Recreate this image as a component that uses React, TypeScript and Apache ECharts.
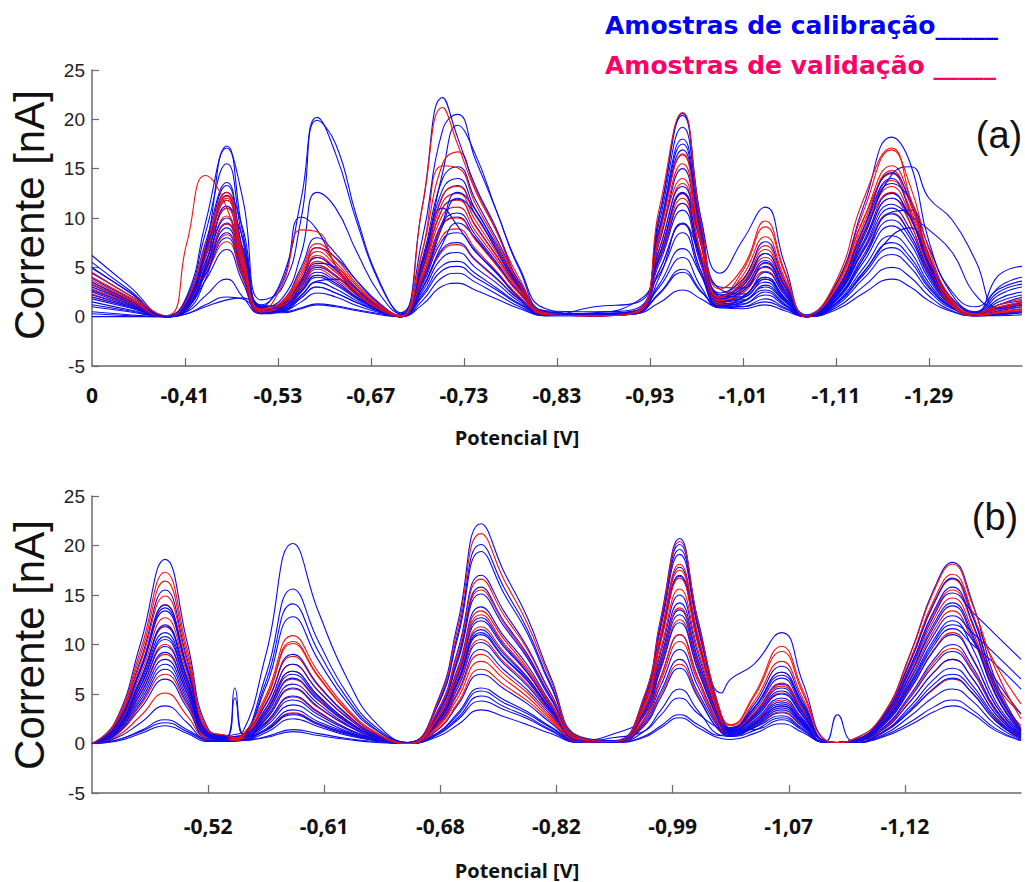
import React, { useEffect, useRef } from "react";
import * as echarts from "echarts";

// ---------- Panel (a): sampling positions (axis units, one unit per tick) ----------
const KNOTS_A = [0, 0.4, 0.8, 1.02, 1.22, 1.45, 1.62, 1.82, 2.05, 2.25, 2.42, 2.62, 2.85, 3.1, 3.32, 3.55, 3.77, 3.93, 4.12, 4.35, 4.6, 4.88, 5.4, 5.85, 6.1, 6.35, 6.55, 6.75, 7.0, 7.24, 7.45, 7.68, 8.0, 8.3, 8.6, 8.8, 9.0, 9.25, 9.5, 9.75, 10];
const TICKS_A = ["0", "-0,41", "-0,53", "-0,67", "-0,73", "-0,83", "-0,93", "-1,01", "-1,11", "-1,29"];

// calibration samples (blue), panel (a)
const CAL_A_01 = [6.2, 3.1, 0.1, 2.1, 9.5, 17.3, 8.6, 1.0, 4.0, 12.0, 20.2, 16.5, 9.5, 3.2, 0.2, 11.1, 22.2, 18.2, 13.3, 8.9, 3.3, 0.2, 0.3, 0.6, 10.3, 20.6, 9.9, 4.4, 7.8, 11.1, 5.3, 0.2, 3.3, 11.3, 18.2, 15.5, 7.6, 2.2, 0.5, 4.2, 5.1];
const CAL_A_02 = [4.9, 2.5, 0.0, 1.0, 6.8, 17.1, 12.0, 1.7, 3.0, 10.0, 19.9, 17.5, 10.0, 3.4, 0.4, 7.8, 18.9, 20.5, 16.0, 10.7, 4.7, 0.6, 0.5, 0.8, 10.2, 20.4, 9.8, 2.4, 3.8, 7.6, 3.6, 0.1, 2.3, 8.4, 14.4, 15.2, 12.0, 9.8, 5.7, 0.8, 1.2];
const CAL_A_03 = [4.4, 2.2, 0.0, 1.9, 8.5, 15.5, 7.8, 0.9, 1.9, 6.4, 12.6, 11.0, 6.5, 2.2, 0.3, 5.4, 14.6, 19.4, 16.5, 10.7, 4.9, 0.8, 0.2, 0.5, 9.6, 19.2, 9.2, 2.2, 3.2, 6.4, 3.1, 0.1, 2.6, 9.1, 14.6, 11.7, 6.1, 1.8, 0.4, 3.0, 4.0];
const CAL_A_04 = [3.9, 1.9, 0.1, 1.6, 7.5, 13.6, 6.8, 1.2, 3.6, 10.1, 8.8, 5.2, 2.3, 0.7, 0.1, 5.8, 14.0, 15.2, 11.9, 7.9, 3.5, 0.5, 0.3, 0.4, 8.5, 16.9, 8.1, 2.0, 2.9, 5.7, 2.7, 0.1, 2.4, 8.1, 13.5, 11.8, 7.0, 2.5, 1.0, 2.8, 3.6];
const CAL_A_05 = [3.5, 1.7, 0.0, 1.4, 6.9, 13.3, 6.9, 0.6, 1.6, 5.0, 8.0, 6.4, 3.6, 1.2, 0.1, 5.3, 12.9, 14.0, 10.9, 7.3, 3.2, 0.4, 0.1, 0.3, 7.5, 15.0, 7.2, 1.8, 2.6, 5.1, 2.4, 0.1, 2.2, 7.7, 12.5, 10.0, 5.2, 1.4, 0.2, 1.2, 2.0];
const CAL_A_06 = [3.0, 1.5, 0.0, 0.8, 4.6, 11.2, 8.0, 1.1, 1.1, 3.6, 7.0, 6.0, 3.6, 1.3, 0.1, 3.6, 9.6, 12.6, 10.9, 7.0, 3.2, 0.5, 0.2, 0.4, 6.8, 13.2, 7.8, 2.8, 2.3, 4.5, 2.2, 0.1, 2.1, 7.0, 11.4, 10.2, 8.8, 6.5, 2.2, 0.9, 1.5];
const CAL_A_07 = [2.7, 1.3, 0.0, 1.3, 6.0, 11.0, 5.6, 0.5, 1.3, 3.8, 6.0, 4.8, 2.7, 0.9, 0.1, 4.6, 11.0, 11.9, 9.3, 6.2, 2.8, 0.3, 0.2, 0.6, 6.3, 12.5, 6.0, 1.6, 2.1, 4.0, 1.9, 0.1, 2.0, 6.8, 11.0, 8.8, 4.6, 1.3, 0.2, 0.8, 1.2];
const CAL_A_08 = [2.5, 1.2, 0.1, 1.2, 5.5, 10.0, 5.0, 0.8, 1.0, 3.1, 5.0, 4.1, 2.3, 0.8, 0.1, 5.5, 11.0, 9.2, 6.7, 4.5, 1.8, 0.1, 1.0, 1.4, 5.8, 11.5, 5.6, 1.5, 1.9, 3.5, 1.7, 0.1, 1.8, 6.3, 10.4, 8.3, 4.4, 1.3, 0.2, 0.6, 1.0];
const CAL_A_09 = [2.2, 1.1, 0.0, 0.9, 4.8, 9.0, 4.6, 0.4, 0.9, 2.8, 4.5, 3.6, 2.0, 0.7, 0.0, 3.8, 9.3, 10.1, 7.9, 5.3, 2.3, 0.3, 0.1, 0.3, 4.7, 9.4, 4.6, 1.3, 1.6, 3.0, 1.5, 0.0, 1.7, 6.0, 9.8, 7.9, 4.1, 1.2, 0.2, 0.5, 0.8];
const CAL_A_10 = [1.8, 0.9, 0.0, 1.0, 4.6, 8.5, 4.3, 0.5, 0.8, 2.5, 4.0, 3.2, 1.8, 0.6, 0.0, 3.2, 7.8, 8.5, 6.6, 4.4, 1.9, 0.2, 0.4, 1.5, 4.3, 8.5, 4.2, 1.1, 1.5, 2.7, 1.3, 0.0, 1.6, 5.6, 9.2, 7.4, 3.8, 1.1, 0.1, 0.3, 0.6];
const CAL_A_11 = [1.5, 0.7, 0.0, 0.9, 4.3, 8.0, 4.1, 0.4, 0.7, 2.2, 3.5, 2.8, 1.6, 0.5, 0.0, 2.2, 5.2, 5.6, 4.4, 2.9, 1.3, 0.2, 0.2, 0.5, 3.3, 6.9, 4.2, 1.0, 1.2, 2.2, 1.1, 0.0, 1.3, 4.6, 7.5, 6.0, 3.1, 0.9, 0.1, 0.3, 0.5];
const CAL_A_12 = [1.0, 0.5, 0.0, 0.5, 2.1, 3.8, 2.0, 0.3, 0.6, 1.9, 3.0, 2.4, 1.4, 0.5, 0.0, 2.0, 4.7, 5.1, 4.0, 2.7, 1.2, 0.2, 0.3, 0.6, 3.0, 6.0, 3.0, 0.9, 1.0, 1.8, 0.9, 0.0, 1.1, 3.9, 6.3, 5.0, 2.6, 0.8, 0.3, 1.2, 1.6];
const CAL_A_13 = [0.5, 0.2, 0.0, 0.3, 1.2, 2.0, 1.8, 0.6, 0.5, 0.9, 1.3, 1.1, 0.7, 0.3, 0.0, 1.6, 4.0, 4.4, 3.5, 2.3, 1.0, 0.1, 0.1, 0.4, 2.3, 4.5, 2.5, 1.2, 1.0, 1.5, 0.8, 0.0, 0.9, 3.1, 5.0, 4.0, 2.1, 0.6, 0.1, 0.2, 0.4];
const CAL_A_14 = [0.0, 0.0, 0.0, 0.3, 1.0, 1.7, 1.9, 0.7, 0.4, 0.8, 1.2, 1.0, 0.6, 0.2, 0.0, 1.2, 3.1, 3.4, 2.7, 1.8, 0.8, 0.1, 0.1, 0.3, 1.4, 2.7, 1.8, 0.9, 0.8, 1.2, 0.6, 0.0, 0.7, 2.4, 3.8, 3.0, 1.6, 0.5, 0.1, 0.1, 0.2];
const CAL_A_15 = [5.0, 2.5, 0.1, 0.8, 5.2, 12.6, 9.0, 1.0, 1.3, 3.5, 5.4, 5.0, 2.8, 0.9, 0.1, 3.9, 9.6, 10.5, 8.3, 5.5, 2.4, 0.3, 0.1, 0.3, 4.0, 9.5, 6.0, 1.8, 3.4, 6.4, 3.1, 0.1, 2.6, 9.0, 14.0, 10.5, 5.0, 1.2, 0.3, 2.2, 3.0];
const CAL_A_16 = [0.3, 0.1, 0.0, 1.0, 5.0, 9.5, 4.8, 0.5, 0.6, 1.9, 3.0, 2.4, 1.4, 0.5, 0.0, 2.9, 6.9, 7.5, 5.8, 3.9, 1.7, 0.2, 0.2, 0.5, 2.4, 4.8, 2.6, 1.0, 2.0, 4.0, 1.9, 0.0, 1.3, 4.3, 7.0, 5.6, 2.9, 0.9, 0.2, 1.8, 2.5];
const CAL_A_17 = [3.2, 1.6, 0.0, 1.2, 6.3, 11.8, 6.0, 0.7, 1.1, 3.3, 5.2, 4.2, 2.4, 0.8, 0.1, 4.9, 12.2, 13.3, 10.4, 6.9, 3.1, 0.4, 0.2, 0.5, 8.8, 17.5, 8.5, 3.0, 2.9, 5.5, 2.6, 0.1, 2.1, 7.4, 12.0, 10.0, 5.3, 1.5, 0.2, 0.9, 1.4];
const CAL_A_18 = [2.0, 1.0, 0.0, 0.6, 3.8, 9.4, 7.0, 0.9, 0.7, 2.1, 3.6, 3.8, 2.2, 0.7, 0.0, 2.8, 7.4, 9.5, 8.0, 5.3, 2.4, 0.3, 0.3, 0.5, 6.2, 12.6, 7.4, 2.0, 1.7, 3.2, 1.6, 0.0, 1.7, 6.0, 10.6, 10.8, 5.5, 1.5, 0.2, 1.5, 2.2];
const CAL_A_19 = [1.2, 0.6, 0.0, 0.8, 3.7, 6.8, 3.5, 0.3, 0.5, 1.5, 2.4, 2.0, 1.1, 0.4, 0.0, 2.5, 6.0, 6.5, 5.0, 3.4, 1.5, 0.2, 0.1, 0.4, 5.4, 10.8, 5.2, 1.2, 1.3, 2.5, 1.2, 0.0, 1.4, 5.0, 8.2, 6.6, 3.4, 1.0, 0.1, 0.2, 0.4];
const CAL_A_20 = [5.5, 2.7, 0.1, 1.4, 6.6, 12.3, 6.4, 0.8, 0.9, 2.6, 4.2, 3.4, 1.9, 0.6, 0.0, 3.4, 9.2, 12.0, 10.4, 6.7, 3.0, 0.5, 0.2, 0.4, 9.0, 18.0, 8.8, 2.2, 2.0, 3.8, 1.8, 0.1, 1.3, 4.5, 8.2, 9.0, 5.4, 1.8, 0.5, 2.5, 3.3];

// validation samples (red), panel (a)
const VAL_A_01 = [4.5, 2.2, 0.1, 7.5, 14.3, 11.0, 5.0, 0.6, 3.3, 8.8, 8.6, 5.2, 2.4, 0.7, 0.0, 11.0, 21.2, 17.5, 12.8, 8.6, 3.2, 0.2, 0.1, 0.5, 11.0, 20.7, 9.5, 2.8, 5.0, 9.7, 4.6, 0.1, 3.6, 12.0, 17.1, 12.0, 6.0, 1.4, 0.3, 1.0, 1.5];
const VAL_A_02 = [4.0, 2.0, 0.0, 1.7, 7.2, 12.6, 6.5, 0.7, 1.6, 4.7, 7.4, 5.9, 3.3, 1.1, 0.1, 6.5, 15.5, 16.7, 13.0, 8.7, 3.8, 0.4, 0.1, 0.4, 8.4, 16.4, 7.8, 2.0, 4.7, 9.1, 4.4, 0.1, 3.2, 10.8, 16.9, 13.2, 6.8, 1.7, 0.2, 0.5, 0.8];
const VAL_A_03 = [3.7, 1.8, 0.0, 1.8, 7.0, 12.2, 6.0, 0.8, 1.5, 4.4, 7.0, 5.5, 3.1, 1.0, 0.1, 6.6, 15.3, 15.1, 11.5, 7.6, 3.3, 0.3, 0.2, 0.5, 7.9, 15.5, 7.3, 1.9, 4.2, 8.1, 3.9, 0.1, 3.1, 10.0, 15.3, 12.0, 6.3, 1.6, 0.4, 1.2, 1.8];
const VAL_A_04 = [3.3, 1.6, 0.0, 1.5, 6.4, 11.8, 6.2, 0.6, 1.4, 4.1, 6.6, 5.2, 2.9, 1.0, 0.0, 5.1, 12.3, 13.2, 10.3, 6.9, 3.0, 0.3, 0.1, 0.6, 8.0, 14.0, 6.2, 1.7, 3.7, 7.2, 3.4, 0.1, 2.8, 9.5, 14.8, 11.4, 5.8, 1.5, 0.2, 0.4, 0.6];
const VAL_A_05 = [3.0, 1.5, 0.0, 1.4, 6.1, 11.0, 5.5, 0.5, 1.3, 3.8, 6.2, 4.9, 2.8, 0.9, 0.0, 4.5, 11.0, 11.8, 9.2, 6.1, 2.7, 0.3, 0.1, 0.4, 6.9, 13.5, 6.4, 1.6, 3.1, 6.0, 2.9, 0.1, 2.6, 8.7, 13.8, 10.9, 5.6, 1.4, 0.3, 0.9, 1.2];
const VAL_A_06 = [2.6, 1.3, 0.0, 1.2, 5.6, 10.2, 5.2, 0.5, 1.1, 3.4, 5.6, 4.5, 2.5, 0.8, 0.0, 4.2, 10.3, 11.1, 8.7, 5.8, 2.6, 0.3, 0.1, 0.4, 6.3, 12.5, 5.9, 1.5, 2.8, 5.4, 2.6, 0.1, 2.5, 8.4, 13.2, 10.2, 5.1, 1.3, 0.2, 0.5, 0.7];
const VAL_A_07 = [2.3, 1.1, 0.0, 1.0, 4.6, 8.3, 4.2, 0.4, 1.0, 3.0, 4.8, 3.8, 2.2, 0.7, 0.0, 3.4, 8.2, 8.9, 6.9, 4.6, 2.0, 0.2, 0.1, 0.4, 5.8, 11.5, 5.5, 1.4, 2.4, 4.6, 2.2, 0.0, 2.3, 7.6, 12.0, 9.4, 4.8, 1.2, 0.2, 0.7, 1.0];
const VAL_A_08 = [2.0, 1.0, 0.0, 0.9, 4.2, 7.6, 3.9, 0.4, 0.9, 2.6, 4.2, 3.4, 1.9, 0.6, 0.0, 2.8, 6.7, 7.3, 5.7, 3.8, 1.7, 0.2, 0.1, 0.3, 4.7, 9.4, 4.5, 1.2, 2.0, 3.8, 1.8, 0.0, 2.0, 6.7, 10.5, 8.3, 4.2, 1.1, 0.1, 0.3, 0.5];
const VAL_A_09 = [3.5, 1.7, 0.0, 1.6, 6.8, 12.0, 6.3, 0.6, 1.1, 3.3, 5.2, 4.1, 2.3, 0.8, 0.0, 3.8, 9.3, 10.0, 7.8, 5.2, 2.3, 0.2, 0.1, 0.4, 8.6, 16.5, 7.3, 1.9, 3.5, 6.8, 3.2, 0.1, 3.0, 10.0, 14.5, 10.6, 5.2, 1.2, 0.2, 0.8, 1.3];
const VAL_A_10 = [2.8, 1.4, 0.0, 1.1, 5.1, 9.4, 4.8, 0.5, 1.2, 3.7, 6.0, 4.7, 2.7, 0.9, 0.0, 4.8, 11.6, 12.5, 9.8, 6.5, 2.9, 0.3, 0.1, 0.3, 6.0, 12.0, 5.6, 1.4, 2.6, 5.0, 2.4, 0.0, 2.6, 8.5, 12.6, 9.5, 4.6, 1.1, 0.1, 0.4, 0.6];

// ---------- Panel (b): aligned signals ----------
const KNOTS_B = [0, 0.2, 0.42, 0.63, 0.82, 1.0, 1.16, 1.23, 1.3, 1.5, 1.73, 1.95, 2.2, 2.45, 2.72, 2.98, 3.15, 3.35, 3.55, 3.75, 3.95, 4.2, 4.5, 4.75, 4.9, 5.06, 5.22, 5.42, 5.5, 5.7, 5.94, 6.12, 6.32, 6.42, 6.55, 6.8, 7.05, 7.25, 7.41, 7.58, 7.78, 8.0];
const TICKS_B = ["", "-0,52", "-0,61", "-0,68", "-0,82", "-0,99", "-1,07", "-1,12"];

const CAL_B_01 = [0, 2.2, 10.2, 18.6, 10.2, 1.5, 0.8, 0.9, 1.2, 9.1, 20.2, 13.3, 6.5, 2.0, 0.1, 4.4, 12.2, 22.2, 17.3, 12.7, 6.7, 0.7, 0.3, 4.6, 12.8, 20.7, 12.4, 5.1, 6.5, 8.0, 11.2, 6.2, 0.3, 0.1, 0.4, 2.7, 9.2, 15.6, 18.3, 14.3, 6.4, 1.5];
const CAL_B_02 = [0, 1.7, 7.7, 14.0, 7.7, 1.1, 0.7, 5.6, 1.0, 7.0, 15.6, 10.3, 5.0, 1.6, 0.1, 4.0, 11.1, 20.1, 15.7, 11.5, 6.0, 0.6, 0.2, 4.4, 12.5, 20.1, 12.1, 2.8, 1.5, 3.9, 7.8, 4.3, 0.2, 0.1, 0.3, 2.5, 8.4, 14.2, 16.7, 13.0, 5.8, 1.3];
const CAL_B_03 = [0, 1.6, 7.5, 13.7, 7.5, 1.0, 0.6, 0.7, 0.9, 6.3, 14.1, 9.3, 4.5, 1.4, 0.1, 3.9, 10.7, 19.4, 15.1, 11.1, 5.8, 0.6, 0.2, 4.3, 12.2, 19.6, 11.8, 2.7, 1.6, 3.6, 7.2, 4.0, 0.2, 0.1, 0.3, 2.3, 7.6, 12.9, 15.2, 13.3, 11.0, 8.5];
const CAL_B_04 = [0, 1.6, 7.4, 13.4, 7.4, 1.1, 0.7, 4.6, 0.9, 5.8, 12.8, 8.4, 4.1, 1.3, 0.1, 3.2, 8.7, 15.8, 12.3, 9.0, 4.7, 0.5, 0.2, 4.2, 11.8, 19.1, 11.5, 2.7, 1.5, 3.3, 6.6, 3.6, 0.2, 2.9, 0.3, 2.1, 7.1, 12.1, 14.2, 11.1, 5.0, 1.1];
const CAL_B_05 = [0, 1.3, 6.2, 11.2, 6.2, 0.9, 0.6, 0.7, 0.8, 3.6, 8.0, 5.3, 2.6, 0.8, 0.0, 3.0, 8.3, 15.1, 11.8, 8.6, 4.5, 0.5, 0.2, 3.7, 10.5, 16.9, 10.1, 2.4, 1.3, 2.8, 5.6, 3.1, 0.2, 0.1, 0.3, 1.9, 6.5, 11.0, 12.9, 11.2, 9.0, 6.5];
const CAL_B_06 = [0, 1.3, 5.9, 10.8, 5.9, 0.9, 0.5, 0.6, 0.7, 3.3, 7.3, 4.8, 2.3, 0.7, 0.0, 2.5, 7.0, 12.7, 9.9, 7.2, 3.8, 0.4, 0.2, 3.1, 8.8, 14.2, 8.5, 2.0, 1.2, 2.5, 5.0, 2.8, 0.2, 0.1, 0.2, 1.9, 6.2, 10.5, 12.4, 9.7, 4.3, 1.0];
const CAL_B_07 = [0, 1.2, 5.4, 9.8, 5.4, 0.8, 0.5, 0.6, 0.7, 3.2, 7.0, 4.6, 2.2, 0.7, 0.0, 2.5, 6.8, 12.4, 9.7, 7.1, 3.7, 0.4, 0.1, 2.9, 8.1, 13.0, 7.8, 1.8, 1.1, 2.3, 4.6, 2.5, 0.1, 0.1, 0.2, 1.7, 5.5, 9.4, 11.0, 8.6, 3.9, 0.9];
const CAL_B_08 = [0, 1.1, 5.1, 9.2, 5.1, 0.7, 0.5, 0.6, 0.6, 2.5, 5.6, 3.7, 1.8, 0.6, 0.0, 2.3, 6.3, 11.5, 9.0, 6.6, 3.5, 0.3, 1.0, 2.7, 7.6, 12.2, 7.3, 1.7, 1.0, 2.1, 4.2, 2.3, 0.1, 0.1, 0.2, 1.5, 5.0, 8.5, 10.0, 7.8, 3.5, 0.8];
const CAL_B_09 = [0, 1.0, 4.7, 8.5, 4.7, 0.7, 0.4, 0.5, 0.6, 2.0, 4.4, 2.9, 1.4, 0.4, 0.0, 2.0, 5.6, 10.2, 8.0, 5.8, 3.1, 0.3, 0.1, 2.4, 6.8, 11.0, 6.6, 1.5, 0.9, 1.9, 3.8, 2.1, 0.1, 0.1, 0.2, 1.4, 4.7, 7.9, 9.3, 7.3, 3.3, 0.7];
const CAL_B_10 = [0, 1.0, 4.4, 8.0, 4.4, 0.6, 0.4, 0.5, 0.5, 1.8, 3.9, 2.6, 1.2, 0.4, 0.0, 1.1, 3.1, 5.6, 4.4, 3.2, 1.7, 0.2, 0.1, 2.1, 5.9, 9.5, 5.7, 1.3, 0.8, 1.7, 3.4, 1.9, 0.1, 0.1, 0.2, 1.1, 3.8, 6.5, 7.6, 5.9, 2.7, 0.6];
const CAL_B_11 = [0, 0.5, 2.1, 3.8, 2.1, 0.3, 0.3, 0.4, 0.4, 1.5, 3.4, 2.2, 1.1, 0.3, 0.0, 1.1, 2.9, 5.3, 4.1, 3.0, 1.6, 0.2, 0.1, 1.7, 4.7, 7.6, 4.6, 1.1, 0.8, 1.6, 3.1, 1.7, 0.1, 0.1, 0.1, 1.0, 3.3, 5.6, 6.6, 5.1, 2.3, 0.5];
const CAL_B_12 = [0, 0.3, 1.3, 2.4, 1.4, 0.4, 0.3, 0.3, 0.4, 1.3, 2.9, 1.9, 0.9, 0.3, 0.0, 1.0, 2.6, 4.8, 3.7, 2.7, 1.4, 0.2, 0.6, 1.2, 2.9, 4.6, 3.0, 1.4, 1.2, 1.6, 2.8, 1.5, 0.1, 0.1, 0.1, 0.8, 2.8, 4.7, 5.5, 4.3, 1.9, 0.4];
const CAL_B_13 = [0, 0.3, 1.2, 2.1, 1.2, 0.3, 0.2, 0.3, 0.3, 0.7, 1.4, 1.0, 0.5, 0.2, 0.0, 0.9, 2.4, 4.3, 3.4, 2.5, 1.3, 0.1, 0.1, 0.7, 1.8, 2.9, 1.9, 0.8, 1.4, 1.4, 2.4, 1.3, 0.1, 0.1, 0.1, 0.7, 2.2, 3.7, 4.4, 3.4, 1.5, 0.3];
const CAL_B_14 = [0, 0.2, 1.0, 1.8, 1.0, 0.2, 0.2, 0.2, 0.3, 0.6, 1.2, 0.8, 0.4, 0.1, 0.0, 0.7, 1.9, 3.4, 2.7, 1.9, 1.0, 0.1, 0.1, 0.6, 1.6, 2.6, 1.6, 0.5, 0.4, 1.0, 2.0, 1.1, 0.1, 0.1, 0.1, 0.6, 1.9, 3.2, 3.8, 3.0, 1.3, 0.3];
const CAL_B_15 = [0, 1.4, 6.6, 12.0, 6.6, 1.0, 0.6, 0.7, 0.7, 2.7, 6.0, 4.0, 1.9, 0.6, 0.0, 2.2, 6.1, 11.0, 8.6, 6.3, 3.3, 0.3, 0.1, 3.3, 9.3, 15.0, 9.0, 2.1, 1.3, 3.0, 6.0, 3.3, 0.2, 0.1, 0.2, 1.8, 6.0, 10.2, 12.0, 10.5, 6.5, 3.0];
const CAL_B_16 = [0, 0.8, 3.6, 6.5, 3.6, 0.5, 0.4, 0.4, 0.5, 1.4, 3.0, 2.0, 1.0, 0.3, 0.0, 1.9, 5.2, 9.5, 7.4, 5.4, 2.9, 0.3, 0.1, 1.2, 3.4, 5.5, 3.3, 0.8, 0.7, 2.0, 4.0, 2.2, 0.1, 0.1, 0.2, 1.3, 4.3, 7.2, 8.5, 6.6, 3.0, 0.7];
const CAL_B_17 = [0, 1.4, 6.5, 11.8, 6.5, 1.0, 0.6, 0.7, 0.7, 3.0, 6.6, 4.4, 2.1, 0.7, 0.0, 2.8, 7.6, 13.8, 10.8, 7.9, 4.1, 0.4, 0.2, 3.9, 11.0, 17.8, 10.7, 2.5, 1.2, 2.7, 5.3, 2.9, 0.2, 0.1, 0.3, 2.1, 7.0, 11.8, 13.9, 10.8, 4.9, 1.1];
const CAL_B_18 = [0, 1.3, 5.8, 10.5, 5.8, 0.8, 0.5, 0.6, 0.6, 2.2, 4.8, 3.2, 1.5, 0.5, 0.0, 2.2, 6.2, 11.2, 8.7, 6.4, 3.4, 0.3, 0.1, 3.0, 8.4, 13.5, 8.1, 1.9, 1.0, 1.8, 3.6, 2.0, 0.1, 0.1, 0.2, 1.7, 5.8, 9.9, 11.6, 10.0, 8.0, 5.5];
const CAL_B_19 = [0, 0.9, 4.1, 7.5, 4.1, 0.6, 0.4, 0.4, 0.4, 1.1, 2.5, 1.7, 0.8, 0.3, 0.0, 1.4, 3.9, 7.0, 5.5, 4.0, 2.1, 0.2, 0.1, 1.9, 5.3, 8.5, 5.1, 1.2, 0.7, 1.3, 2.6, 1.4, 0.1, 0.1, 0.1, 1.1, 3.5, 6.0, 7.0, 5.5, 2.5, 0.5];
const CAL_B_20 = [0, 1.9, 8.5, 15.5, 8.5, 1.2, 0.7, 0.7, 0.9, 4.1, 9.0, 5.9, 2.9, 0.9, 0.0, 3.4, 9.4, 17.0, 13.3, 9.7, 5.1, 0.5, 0.2, 3.7, 10.5, 17.0, 10.2, 2.4, 1.4, 3.5, 6.9, 3.8, 0.2, 0.1, 0.3, 2.4, 7.9, 13.4, 15.8, 12.3, 5.5, 1.3];

const VAL_B_01 = [0, 2.1, 9.5, 17.3, 9.5, 1.4, 0.8, 0.6, 0.9, 4.9, 10.9, 7.2, 3.5, 1.1, 0.0, 4.2, 11.7, 21.2, 16.5, 12.1, 6.4, 0.6, 0.2, 4.5, 12.6, 20.4, 12.2, 2.9, 1.9, 4.9, 9.8, 5.4, 0.3, 0.1, 0.4, 2.7, 9.1, 15.4, 18.1, 14.1, 7.5, 2.5];
const VAL_B_02 = [0, 2.0, 9.0, 16.4, 9.0, 1.3, 0.8, 0.6, 0.8, 4.6, 10.3, 6.8, 3.3, 1.0, 0.0, 3.3, 9.1, 16.6, 12.9, 9.5, 5.0, 0.5, 0.2, 4.0, 11.2, 18.1, 10.9, 2.5, 1.8, 4.7, 9.3, 5.1, 0.3, 0.1, 0.3, 2.6, 8.6, 14.5, 17.1, 13.3, 6.0, 1.4];
const VAL_B_03 = [0, 1.8, 8.2, 14.9, 8.2, 1.2, 0.7, 0.6, 0.8, 4.5, 10.1, 6.7, 3.2, 1.0, 0.0, 2.7, 7.4, 13.4, 10.5, 7.6, 4.0, 0.4, 0.2, 3.7, 10.4, 16.7, 10.0, 2.3, 1.6, 4.2, 8.3, 4.6, 0.2, 0.1, 0.3, 2.5, 8.3, 14.1, 16.6, 12.9, 8.0, 4.0];
const VAL_B_04 = [0, 1.5, 7.0, 12.7, 7.0, 1.0, 0.6, 0.5, 0.7, 4.0, 8.8, 5.8, 2.8, 0.9, 0.0, 2.6, 7.2, 13.0, 10.1, 7.4, 3.9, 0.4, 0.2, 3.4, 9.7, 15.6, 9.4, 2.2, 1.4, 3.1, 6.1, 3.4, 0.2, 0.1, 0.3, 2.2, 7.4, 12.5, 14.7, 11.5, 5.1, 1.2];
const VAL_B_05 = [0, 1.4, 6.5, 11.9, 6.5, 1.0, 0.6, 0.5, 0.6, 3.3, 7.3, 4.8, 2.3, 0.7, 0.0, 2.1, 5.8, 10.5, 8.2, 6.0, 3.2, 0.3, 0.1, 3.0, 8.5, 13.7, 8.2, 1.9, 1.2, 2.6, 5.1, 2.8, 0.2, 0.1, 0.3, 2.0, 6.7, 11.4, 13.4, 10.5, 6.0, 3.0];
const VAL_B_06 = [0, 1.2, 5.5, 10.0, 5.5, 0.8, 0.5, 0.4, 0.6, 2.9, 6.5, 4.3, 2.1, 0.7, 0.0, 1.8, 5.0, 9.0, 7.0, 5.1, 2.7, 0.3, 0.1, 2.8, 7.8, 12.5, 7.5, 1.8, 1.1, 2.2, 4.4, 2.4, 0.1, 0.1, 0.2, 1.7, 5.6, 9.5, 11.2, 8.7, 3.9, 0.9];
const VAL_B_07 = [0, 0.8, 3.9, 7.0, 3.9, 0.6, 0.4, 0.4, 0.5, 2.1, 4.7, 3.1, 1.5, 0.5, 0.0, 1.7, 4.6, 8.3, 6.5, 4.7, 2.5, 0.2, 0.1, 2.3, 6.4, 10.3, 6.2, 1.4, 1.0, 1.9, 3.8, 2.1, 0.1, 0.1, 0.2, 1.3, 4.3, 7.2, 8.5, 6.6, 3.0, 0.7];
const VAL_B_08 = [0, 0.6, 2.8, 5.1, 2.8, 0.4, 0.3, 0.3, 0.4, 1.4, 3.1, 2.0, 1.0, 0.3, 0.0, 1.5, 4.1, 7.5, 5.9, 4.3, 2.3, 0.2, 0.1, 1.8, 5.0, 8.0, 4.8, 1.1, 0.8, 1.6, 3.2, 1.8, 0.1, 0.1, 0.2, 1.0, 3.3, 5.5, 6.5, 5.1, 2.3, 0.5];
const VAL_B_09 = [0, 1.7, 7.7, 14.0, 7.7, 1.1, 0.7, 0.5, 0.7, 3.6, 8.0, 5.3, 2.6, 0.8, 0.0, 3.1, 8.5, 15.5, 12.1, 8.8, 4.7, 0.5, 0.2, 3.9, 10.9, 17.5, 10.5, 2.5, 1.5, 3.6, 7.2, 4.0, 0.2, 0.1, 0.3, 2.3, 7.8, 13.2, 15.5, 12.1, 5.4, 1.8];
const VAL_B_10 = [0, 1.1, 5.0, 9.0, 5.0, 0.7, 0.5, 0.4, 0.5, 2.5, 5.5, 3.6, 1.8, 0.6, 0.0, 2.4, 6.5, 11.8, 9.2, 6.7, 3.5, 0.4, 0.1, 2.4, 6.8, 11.0, 6.6, 1.5, 1.1, 2.9, 5.8, 3.2, 0.2, 0.1, 0.2, 1.4, 4.8, 8.2, 9.6, 7.5, 3.4, 0.8];

const Y_MIN = -5;
const Y_MAX = 25;
const Y_STEP = 5;

const BLUE = "#0a0af2";
const RED = "#f21010";

const ORDER_A: [number[], string][] = [
  [CAL_A_14, BLUE], [CAL_A_13, BLUE], [CAL_A_12, BLUE], [CAL_A_19, BLUE], [VAL_A_08, RED], [CAL_A_11, BLUE], [CAL_A_10, BLUE],
  [VAL_A_07, RED], [CAL_A_09, BLUE], [CAL_A_16, BLUE], [CAL_A_18, BLUE], [VAL_A_06, RED], [VAL_A_10, RED], [CAL_A_08, BLUE], [CAL_A_07, BLUE],
  [VAL_A_05, RED], [CAL_A_06, BLUE], [CAL_A_15, BLUE], [CAL_A_17, BLUE], [VAL_A_04, RED], [VAL_A_09, RED], [CAL_A_05, BLUE], [CAL_A_04, BLUE],
  [CAL_A_20, BLUE], [VAL_A_03, RED], [CAL_A_03, BLUE], [VAL_A_02, RED], [CAL_A_02, BLUE], [CAL_A_01, BLUE], [VAL_A_01, RED],
];
const ORDER_B: [number[], string][] = [
  [CAL_B_14, BLUE], [CAL_B_13, BLUE], [CAL_B_12, BLUE], [CAL_B_19, BLUE], [VAL_B_08, RED], [CAL_B_11, BLUE], [CAL_B_10, BLUE],
  [VAL_B_07, RED], [CAL_B_09, BLUE], [CAL_B_16, BLUE], [CAL_B_18, BLUE], [VAL_B_06, RED], [VAL_B_10, RED], [CAL_B_08, BLUE], [CAL_B_07, BLUE],
  [VAL_B_05, RED], [CAL_B_06, BLUE], [CAL_B_15, BLUE], [CAL_B_17, BLUE], [VAL_B_04, RED], [VAL_B_09, RED], [CAL_B_05, BLUE], [CAL_B_04, BLUE],
  [CAL_B_20, BLUE], [VAL_B_03, RED], [CAL_B_03, BLUE], [VAL_B_02, RED], [CAL_B_02, BLUE], [CAL_B_01, BLUE], [VAL_B_01, RED],
];

function lineSeries(knots: number[], ys: number[], color: string, idx: number) {
  return {
    type: "line",
    xAxisIndex: idx,
    yAxisIndex: idx,
    data: knots.map((x, i) => [x, ys[i]]),
    smooth: 0.5,
    showSymbol: false,
    symbol: "none",
    silent: true,
    lineStyle: { color, width: 1.1 },
    itemStyle: { color },
  };
}

const AXIS_GRAY = "#6a6a6a";

function yAxis(idx: number) {
  return {
    type: "value",
    gridIndex: idx,
    min: Y_MIN,
    max: Y_MAX,
    interval: Y_STEP,
    axisLine: { show: true, onZero: false, lineStyle: { color: AXIS_GRAY, width: 1.5 } },
    axisTick: { show: true, inside: true, length: 7, lineStyle: { color: AXIS_GRAY, width: 1.2 } },
    axisLabel: { color: "#222", fontSize: 19, fontFamily: "Liberation Sans", margin: 7 },
    splitLine: { show: false },
  };
}

function xAxis(idx: number, max: number, labels: string[], margin: number) {
  const labelVals = labels.map((_, i) => i).filter((i) => labels[i] !== "");
  const tickVals: number[] = [];
  for (let i = 1; i < max; i++) tickVals.push(i);
  return {
    type: "value",
    gridIndex: idx,
    min: 0,
    max,
    interval: 1,
    axisLine: { show: true, onZero: false, lineStyle: { color: AXIS_GRAY, width: 1.5 } },
    axisTick: { show: true, inside: true, length: 8, customValues: tickVals, lineStyle: { color: AXIS_GRAY, width: 1.2 } },
    axisLabel: {
      customValues: labelVals,
      color: "#111",
      fontSize: 21,
      fontWeight: "bold",
      fontFamily: "Open Sans",
      margin,
      formatter: (v: number) => labels[Math.round(v)] ?? "",
    },
    splitLine: { show: false },
  };
}

function txt(x: number, y: number, text: string, font: string, fill: string, align = "center", rotation = 0) {
  return {
    type: "text",
    x,
    y,
    rotation,
    silent: true,
    style: {
      text,
      font,
      fill,
      align,
      verticalAlign: "middle",
      textAlign: align,
      textVerticalAlign: "middle",
    },
  };
}

export default function App() {
  const ref = useRef<HTMLDivElement>(null);
  useEffect(() => {
    if (!ref.current) return;
    const chart = echarts.init(ref.current, undefined, { renderer: "svg" });
    const series: any[] = [];
    ORDER_A.forEach(([ys, c]) => series.push(lineSeries(KNOTS_A, ys, c, 0)));
    ORDER_B.forEach(([ys, c]) => series.push(lineSeries(KNOTS_B, ys, c, 1)));
    chart.setOption({
      animation: false,
      backgroundColor: "#ffffff",
      grid: [
        { left: 92, top: 70, width: 930, height: 296, outerBoundsMode: "none", containLabel: false },
        { left: 92, top: 496, width: 929, height: 297, outerBoundsMode: "none", containLabel: false },
      ],
      xAxis: [xAxis(0, 10, TICKS_A, 18), xAxis(1, 8, TICKS_B, 22)],
      yAxis: [yAxis(0), yAxis(1)],
      series,
      graphic: [
        txt(605, 25.5, "Amostras de calibração_____", 'bold 25px "DejaVu Sans"', "#0000ff", "left"),
        txt(605, 65, "Amostras de validação _____", 'bold 25px "DejaVu Sans"', "#ff0066", "left"),
        txt(999, 135, "(a)", '38px "Liberation Sans"', "#111"),
        txt(995, 517, "(b)", '38px "Liberation Sans"', "#111"),
        txt(29, 215, "Corrente [nA]", '42px "Liberation Sans"', "#111", "center", Math.PI / 2),
        txt(29, 645, "Corrente [nA]", '42px "Liberation Sans"', "#111", "center", Math.PI / 2),
        txt(517, 437, "Potencial [V]", 'bold 20px "Open Sans"', "#111"),
        txt(517, 870, "Potencial [V]", 'bold 20px "Open Sans"', "#111"),
      ],
    });
    return () => chart.dispose();
  }, []);
  return (
    <div
      ref={ref}
      style={{ position: "absolute", left: 0, top: 0, width: 1025, height: 882, background: "#fff" }}
    />
  );
}
